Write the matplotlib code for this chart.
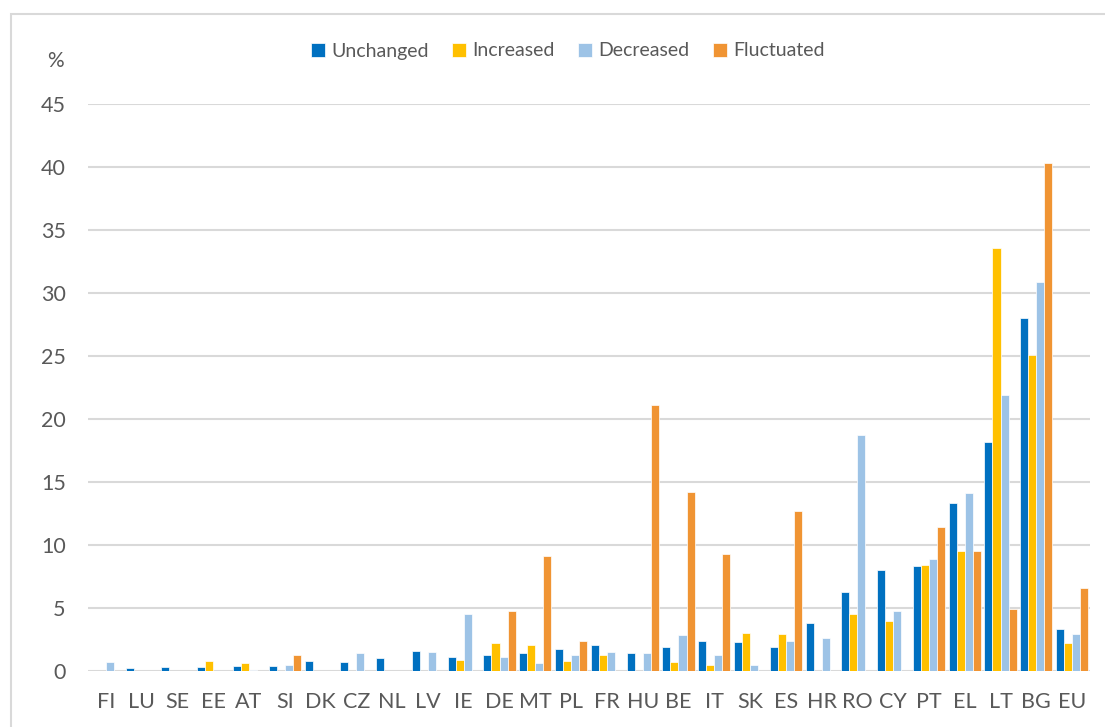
import matplotlib
matplotlib.use("Agg")
import matplotlib.pyplot as plt
import numpy as np
from matplotlib.patches import Rectangle

categories = ["FI", "LU", "SE", "EE", "AT", "SI", "DK", "CZ", "NL", "LV", "IE", "DE", "MT", "PL",
              "FR", "HU", "BE", "IT", "SK", "ES", "HR", "RO", "CY", "PT", "EL", "LT", "BG", "EU"]
unchanged = [0.0, 0.2, 0.3, 0.3, 0.4, 0.4, 0.8, 0.7, 1.0, 1.6, 1.15, 1.25, 1.45, 1.75,
             2.1, 1.4, 1.9, 2.4, 2.3, 1.9, 3.8, 6.3, 8.0, 8.35, 13.35, 18.2, 28.0, 3.35]
increased = [0.0, 0.0, 0.0, 0.8, 0.6, 0.0, 0.0, 0.0, 0.0, 0.0, 0.9, 2.2, 2.1, 0.8,
             1.3, 0.0, 0.7, 0.5, 3.05, 2.95, 0.0, 4.55, 3.95, 8.4, 9.5, 33.6, 25.05, 2.25]
decreased = [0.7, 0.0, 0.0, 0.0, 0.1, 0.5, 0.0, 1.4, 0.0, 1.5, 4.55, 1.1, 0.6, 1.3,
             1.5, 1.4, 2.85, 1.3, 0.5, 2.4, 2.6, 18.7, 4.8, 8.9, 14.15, 21.9, 30.9, 2.9]
fluctuated = [0.0, 0.0, 0.0, 0.0, 0.0, 1.3, 0.0, 0.0, 0.0, 0.0, 0.0, 4.8, 9.1, 2.4,
              0.0, 21.1, 14.2, 9.3, 0.0, 12.7, 0.0, 0.0, 0.0, 11.45, 9.55, 4.95, 40.3, 6.55]
series_names = ["Unchanged", "Increased", "Decreased", "Fluctuated"]
colors = ["#0070C0", "#FFC000", "#9DC3E6", "#F09433"]
yticks = [0, 5, 10, 15, 20, 25, 30, 35, 40, 45]

FONT = ["Lato", "DejaVu Sans"]
plt.rcParams["font.family"] = FONT
TXT = "#595959"
GRID = "#D9D9D9"

fig = plt.figure(figsize=(11.05, 7.27), dpi=100)
fig.patches.append(Rectangle((11 / 1105, -0.05), 1.2, 1 - 14 / 727 + 0.05,
                             transform=fig.transFigure, fill=False,
                             edgecolor=GRID, linewidth=1.5, zorder=0))

ax = fig.add_axes([88 / 1105, 1 - 671 / 727, (1090 - 88) / 1105, (671 - 104) / 727])
x = np.arange(len(categories))
w = 0.225
data = [unchanged, increased, decreased, fluctuated]
for i, (vals, c, name) in enumerate(zip(data, colors, series_names)):
    ax.bar(x + (i - 1.5) * w, vals, width=w, color=c, edgecolor="white",
           linewidth=0.5, label=name, zorder=3)

ax.set_ylim(0, 45)
ax.set_xlim(-0.5, len(categories) - 0.5)
ax.set_yticks(yticks)
ax.set_yticklabels([str(t) for t in yticks])
ax.set_xticks(x)
ax.set_xticklabels(categories)
ax.tick_params(axis="both", length=0, colors=TXT, labelsize=15.5)
ax.tick_params(axis="y", pad=16)
ax.tick_params(axis="x", pad=15)
for s in ax.spines.values():
    s.set_visible(False)
ax.yaxis.grid(True, color=GRID, linewidth=1.5, zorder=0)
ax.set_axisbelow(True)

fig.text(55 / 1105, 1 - 61 / 727, "%", ha="center", va="center", color=TXT, fontsize=15)

fig.legend(loc="center", bbox_to_anchor=(568 / 1105, 1 - 51 / 727), ncol=4, frameon=False,
           fontsize=14, labelcolor=TXT, handlelength=0.7, handleheight=0.7,
           handletextpad=0.35, columnspacing=1.2, borderpad=0)

fig.savefig("out.png", dpi=100)
